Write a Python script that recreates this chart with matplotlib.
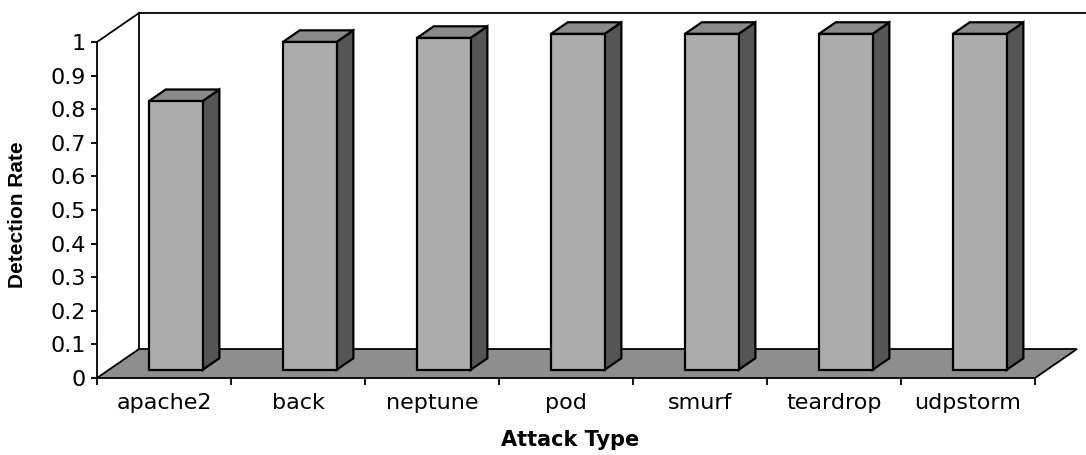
import matplotlib
matplotlib.use("Agg")
import matplotlib.pyplot as plt
from matplotlib.patches import Polygon
from matplotlib.ticker import FixedLocator, FuncFormatter

categories = ["apache2", "back", "neptune", "pod", "smurf", "teardrop", "udpstorm"]
detection_rate = [0.80, 0.976, 0.988, 1.0, 1.0, 1.0, 1.0]
y_ticks = [0, 0.1, 0.2, 0.3, 0.4, 0.5, 0.6, 0.7, 0.8, 0.9, 1.0]
y_tick_labels = ["0", "0.1", "0.2", "0.3", "0.4", "0.5", "0.6", "0.7", "0.8", "0.9", "1"]

W, H = 1086, 455
fig = plt.figure(figsize=(W / 100, H / 100), dpi=100)
fig.patch.set_facecolor("white")

# axes: front plane, x 0..7, y 0..1
left_px, right_px = 97, 1035
zero_px, one_px = 378, 42  # from top
ax = fig.add_axes([left_px / W, (H - zero_px) / H, (right_px - left_px) / W,
                   (zero_px - one_px) / H])
n = len(categories)
ax.set_xlim(0, n)
ax.set_ylim(0, 1)
ax.patch.set_alpha(0)

# depth offsets in data units
DX = 42 / ((right_px - left_px) / n)
DY = 29 / (zero_px - one_px)

# floor
floor = Polygon([(0, 0), (n, 0), (n + DX, DY), (DX, DY)], closed=True,
                facecolor="#8e8e8e", edgecolor="black", lw=1.3, clip_on=False, zorder=1)
ax.add_patch(floor)
# walls (outline only)
ax.plot([0, DX], [1, 1 + DY], color="black", lw=1.3, clip_on=False, zorder=1)
ax.plot([DX, DX], [DY, 1 + DY], color="black", lw=1.3, clip_on=False, zorder=1)
ax.plot([DX, n + 0.38], [1 + DY, 1 + DY], color="black", lw=1.3, clip_on=False, zorder=1)

# bars
w = 0.40
f0, f1 = 0.28, 0.68
ddx, ddy = (f1 - f0) * DX, (f1 - f0) * DY
for i, v in enumerate(detection_rate):
    x0 = i + 0.5 - w / 2 + f0 * DX
    y0 = f0 * DY
    side = Polygon([(x0 + w, y0), (x0 + w + ddx, y0 + ddy), (x0 + w + ddx, y0 + v + ddy),
                    (x0 + w, y0 + v)], closed=True, facecolor="#555555",
                   edgecolor="black", lw=1.6, clip_on=False, zorder=3)
    top = Polygon([(x0, y0 + v), (x0 + w, y0 + v), (x0 + w + ddx, y0 + v + ddy),
                   (x0 + ddx, y0 + v + ddy)], closed=True, facecolor="#8a8a8a",
                  edgecolor="black", lw=1.6, clip_on=False, zorder=3)
    ax.add_patch(side)
    ax.add_patch(top)
    ax.bar(x0, v, width=w, bottom=y0, align="edge", color="#acacac",
           edgecolor="black", linewidth=1.6, clip_on=False, zorder=4)

# spines
for s in ["top", "right"]:
    ax.spines[s].set_visible(False)
ax.spines["left"].set_linewidth(1.3)
ax.spines["bottom"].set_visible(False)
ax.spines["left"].set_zorder(5)

ax.yaxis.set_major_locator(FixedLocator(y_ticks))
ax.yaxis.set_major_formatter(FuncFormatter(lambda v, p: y_tick_labels[int(round(v * 10))]))
ax.tick_params(axis="y", direction="out", length=4, width=1.3, pad=4,
               labelsize=16, labelcolor="black")

ax.set_xticks([i + 0.5 for i in range(n)])
ax.set_xticklabels(categories)
ax.set_xticks(list(range(n + 1)), minor=True)
ax.tick_params(axis="x", which="major", length=0, pad=11, labelsize=16)
ax.tick_params(axis="x", which="minor", length=5, width=1.3, direction="out")

for lab in ax.get_xticklabels() + ax.get_yticklabels():
    lab.set_fontfamily("DejaVu Sans")

ax.set_ylabel("Detection Rate", fontsize=15, fontweight="bold", family="Liberation Sans")
ax.yaxis.set_label_coords(-0.0746, 0.485)
ax.set_xlabel("Attack Type", fontsize=15, fontweight="bold", family="DejaVu Sans")
ax.xaxis.set_label_coords(0.504, -0.155)

fig.savefig("out.png", dpi=100, facecolor="white")
